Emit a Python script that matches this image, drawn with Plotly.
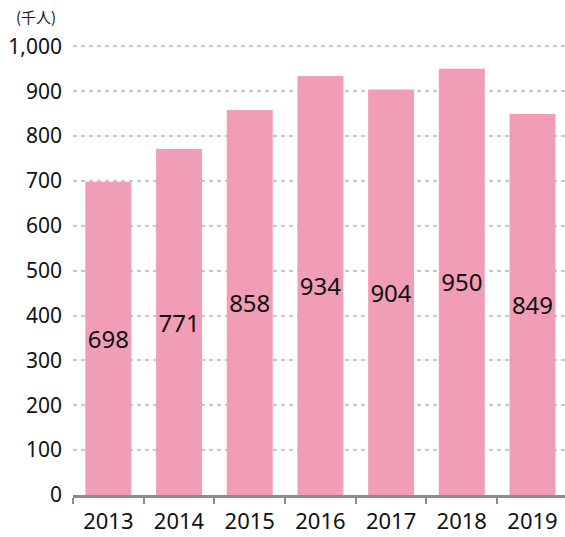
import plotly.graph_objects as go

years = ["2013", "2014", "2015", "2016", "2017", "2018", "2019"]
values = [698, 771, 858, 934, 904, 950, 849]
y_ticks = [0, 100, 200, 300, 400, 500, 600, 700, 800, 900, 1000]
y_tick_labels = ["0", "100", "200", "300", "400", "500", "600", "700", "800", "900", "1,000"]
unit_label = "(千人)"

FONT = "Noto Sans, Noto Sans CJK JP, sans-serif"

fig = go.Figure(go.Bar(
    x=years, y=values,
    marker=dict(color="#f19db5", line=dict(width=0)),
    width=0.65,
    text=[str(v) for v in values],
    textposition="inside",
    insidetextanchor="middle",
    textangle=0,
    constraintext="none",
    textfont=dict(family=FONT, size=24, color="#111111"),
    hoverinfo="skip",
))

fig.update_layout(
    width=565, height=537,
    margin=dict(l=73, r=0, t=45, b=42),
    paper_bgcolor="white", plot_bgcolor="white",
    showlegend=False,
    bargap=0.35,
    font=dict(family=FONT, size=21, color="#111111"),
    xaxis=dict(
        type="category",
        range=[-0.5, 6.46],
        showline=True, linecolor="#8c8c8c", linewidth=3,
        ticks="outside", tickson="boundaries", ticklen=6, tickwidth=2, tickcolor="#8c8c8c",
        showgrid=False,
        ticklabelstandoff=5,
        tickfont=dict(family=FONT, size=22, color="#111111"),
    ),
    yaxis=dict(
        range=[0, 1003],
        tickvals=y_ticks, ticktext=y_tick_labels,
        showgrid=True, gridcolor="#c8c8c8", gridwidth=2, griddash="4px,4px",
        zeroline=False, showline=False, ticks="",
        ticklabelstandoff=10,
        tickfont=dict(family=FONT, size=21, color="#111111"),
    ),
    annotations=[dict(
        text=unit_label, xref="paper", yref="paper", x=-0.12, y=1.0, yshift=16,
        xanchor="left", yanchor="bottom", showarrow=False,
        font=dict(family="Noto Sans CJK JP, Noto Sans, sans-serif", size=15, color="#111111"),
    )],
)

fig.write_html("out.html", config={"displayModeBar": False},
               post_script="document.body.style.margin='0';document.body.style.overflow='hidden';")
